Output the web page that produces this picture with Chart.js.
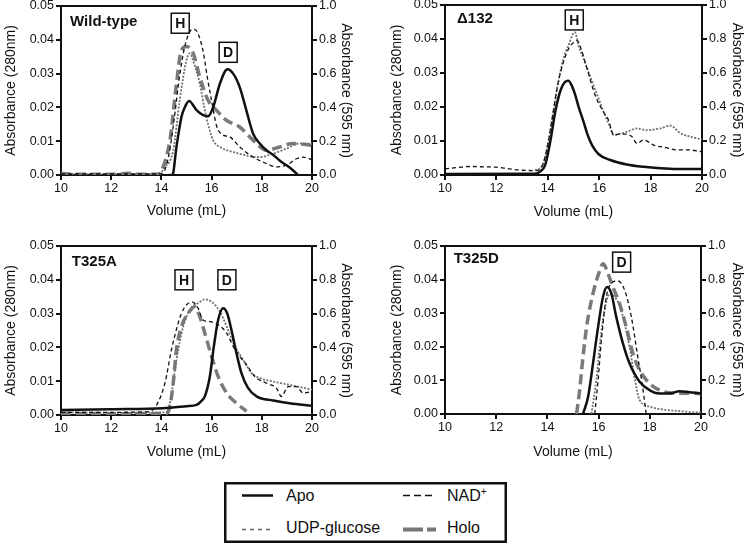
<!DOCTYPE html>
<html>
<head>
<meta charset="utf-8">
<script src="https://cdn.jsdelivr.net/npm/chart.js@4.4.1/dist/chart.umd.min.js"></script>
<style>
  body { margin: 0; background: #fff; }
  #wrap { position: relative; width: 745px; height: 547px; font-family: "Liberation Sans", Arial, sans-serif; color: #111; }
  canvas { position: absolute; }
  #legend { position: absolute; left: 224px; top: 482px; width: 283px; height: 61px; }
  #legend svg { position: absolute; left: 0; top: 0; }
  #legend span { position: absolute; font-size: 16px; line-height: 16px; transform: translateY(-50%); white-space: nowrap; }
  #legend sup { font-size: 10px; vertical-align: 6px; line-height: 0; }
</style>
</head>
<body>
<div id="wrap">
  <canvas id="c0" width="372" height="230" style="left:0;top:0"></canvas>
  <canvas id="c1" width="373" height="230" style="left:372px;top:0"></canvas>
  <canvas id="c2" width="372" height="240" style="left:0;top:230px"></canvas>
  <canvas id="c3" width="373" height="240" style="left:372px;top:230px"></canvas>
  <div id="legend">
    <svg width="283" height="61">
      <rect x="1.25" y="1.25" width="280.5" height="58.5" fill="none" stroke="#111" stroke-width="2.5"/>
      <line x1="18" y1="13.5" x2="49" y2="13.5" stroke="#111" stroke-width="2.5"/>
      <line x1="179" y1="13.5" x2="209" y2="13.5" stroke="#111" stroke-width="1.6" stroke-dasharray="7,4"/>
      <line x1="18" y1="47.5" x2="47" y2="47.5" stroke="#666" stroke-width="1.4" stroke-dasharray="4,4"/>
      <line x1="179" y1="47.5" x2="212" y2="47.5" stroke="#777" stroke-width="4" stroke-dasharray="20,4"/>
    </svg>
    <span style="left:62px;top:14px">Apo</span>
    <span style="left:223px;top:14px">NAD<sup>+</sup></span>
    <span style="left:62px;top:46px">UDP-glucose</span>
    <span style="left:223px;top:46px">Holo</span>
  </div>
</div>
<script>
// Volume (mL), Absorbance (280nm) pairs

// Wild-type
var wtApo = [[14.3,0],[14.44,0],[14.6,0.0083],[14.8,0.0172],[14.93,0.020],[15.1,0.0219],[15.4,0.0192],[15.66,0.0177],[15.86,0.0174],[16.06,0.020],[16.33,0.027],[16.63,0.0313],[16.86,0.030],[17.12,0.026],[17.39,0.019],[17.65,0.0123],[17.92,0.0093],[18.18,0.0073],[18.45,0.006],[18.71,0.0043],[18.98,0.0029],[19.24,0.0014],[19.44,0]];
var wtNad = [[10,0.0003],[13.9,0.0003],[14.1,0.001],[14.3,0.006],[14.5,0.016],[14.7,0.028],[14.9,0.037],[15.1,0.042],[15.27,0.0432],[15.45,0.042],[15.65,0.037],[15.85,0.028],[16.0,0.022],[16.2,0.0145],[16.46,0.0118],[16.72,0.0113],[17.12,0.0083],[17.65,0.0053],[18.18,0.0034],[18.58,0.0024],[18.98,0.0029],[19.38,0.0048],[19.64,0.0053],[20,0.0045]];
var wtUdp = [[10,0.0003],[13.9,0.0003],[14.1,0.002],[14.47,0.0073],[14.73,0.0221],[15.0,0.034],[15.13,0.036],[15.3,0.033],[15.53,0.027],[15.73,0.0192],[15.86,0.015],[16.06,0.0103],[16.33,0.0083],[16.86,0.0068],[17.39,0.0058],[17.92,0.0053],[18.45,0.0063],[18.98,0.0078],[19.5,0.0093],[20,0.0093]];
var wtHolo = [[10,0.0005],[10.5,0.0002],[11,0.0002],[12,0.0002],[12.7,0.0005],[13,0.0002],[13.9,0.0003],[14.07,0.0024],[14.34,0.0103],[14.6,0.027],[14.8,0.037],[15.0,0.038],[15.27,0.036],[15.53,0.029],[15.86,0.0221],[16.19,0.0192],[16.59,0.0162],[17.12,0.0142],[17.65,0.0103],[18.18,0.0073],[18.71,0.0083],[19.24,0.0093],[20,0.0088]];

// Δ132
var dApo = [[10,0.0003],[13.5,0.0004],[13.7,0.001],[13.9,0.003],[14.1,0.010],[14.3,0.019],[14.5,0.025],[14.65,0.0272],[14.8,0.0277],[14.95,0.026],[15.07,0.0235],[15.2,0.02],[15.39,0.0157],[15.55,0.0118],[15.72,0.0088],[15.98,0.0061],[16.43,0.0044],[17.07,0.0031],[17.73,0.0024],[18.38,0.002],[19.03,0.0018],[20,0.0018]];
var dNad = [[10,0.0018],[10.5,0.0022],[11,0.0025],[11.5,0.0024],[12,0.0023],[12.5,0.0018],[13,0.0014],[13.5,0.0013],[13.8,0.003],[14.0,0.009],[14.2,0.018],[14.4,0.027],[14.6,0.033],[14.8,0.037],[15.0,0.039],[15.15,0.0395],[15.3,0.037],[15.5,0.032],[15.84,0.0235],[16.16,0.0186],[16.36,0.0162],[16.56,0.0118],[16.75,0.012],[17.07,0.012],[17.27,0.0113],[17.47,0.0093],[17.73,0.0103],[18.12,0.0088],[18.64,0.008],[19.03,0.0074],[19.42,0.0074],[20,0.0069]];
var dUdp = [[13.5,0.0013],[13.8,0.003],[14.0,0.009],[14.2,0.018],[14.4,0.027],[14.6,0.034],[14.8,0.038],[15.05,0.042],[15.2,0.038],[15.4,0.034],[15.6,0.03],[15.8,0.026],[16.0,0.022],[16.2,0.018],[16.42,0.0142],[16.56,0.0118],[17.07,0.0127],[17.47,0.0137],[17.86,0.0132],[18.38,0.0137],[18.77,0.0145],[19.16,0.0123],[19.68,0.011],[20,0.0105]];
var dHolo = [];

// T325A
var aApo = [[10,0.0015],[12,0.0017],[14.07,0.002],[15.0,0.0026],[15.4,0.003],[15.6,0.0042],[15.73,0.0055],[15.93,0.0114],[16.09,0.0203],[16.26,0.0281],[16.46,0.0316],[16.62,0.0301],[16.79,0.0252],[16.99,0.0183],[17.19,0.0124],[17.45,0.008],[17.79,0.0055],[18.45,0.0043],[19.11,0.0035],[20,0.0027]];
var aNad = [[10,0.0008],[12,0.0008],[13.5,0.001],[13.81,0.003],[14.14,0.0094],[14.4,0.0193],[14.67,0.0272],[14.8,0.0301],[15.0,0.0326],[15.24,0.0334],[15.46,0.0316],[15.66,0.0281],[15.93,0.0276],[16.26,0.0267],[16.6,0.0242],[16.86,0.0203],[17.12,0.0173],[17.39,0.0149],[17.72,0.0114],[18.19,0.0094],[18.58,0.008],[18.78,0.0055],[19.05,0.0084],[19.38,0.0084],[19.65,0.0065],[20,0.007]];
var aUdp = [[10,0.0008],[12,0.0006],[14.2,0.0008],[14.34,0.0035],[14.6,0.0163],[14.87,0.0262],[15.13,0.0311],[15.46,0.0331],[15.73,0.0342],[16.0,0.0335],[16.33,0.0306],[16.6,0.0262],[16.93,0.0203],[17.26,0.0163],[17.59,0.0124],[17.92,0.0109],[18.45,0.0099],[19.11,0.0089],[20,0.0075]];
var aHolo = [[10,0.0005],[12,0.0004],[14.2,0.0005],[14.34,0.0025],[14.47,0.0094],[14.6,0.0193],[14.8,0.0262],[15.07,0.0301],[15.33,0.032],[15.53,0.0291],[15.73,0.0242],[16.0,0.0173],[16.26,0.0114],[16.6,0.0065],[16.99,0.0035],[17.39,0.0011]];

// T325D
var tApo = [[15.39,0],[15.59,0.0051],[15.78,0.015],[15.98,0.0259],[16.17,0.0348],[16.33,0.0378],[16.5,0.0358],[16.69,0.0289],[16.95,0.021],[17.21,0.015],[17.6,0.0096],[17.99,0.0071],[18.38,0.0061],[18.77,0.0061],[19.16,0.0068],[19.55,0.0065],[20,0.0061]];
var tNad = [[15.85,0],[15.98,0.01],[16.11,0.022],[16.3,0.0348],[16.56,0.0393],[16.75,0.0396],[17.02,0.0368],[17.28,0.0289],[17.53,0.017],[17.7,0.0091],[17.86,0]];
var tUdp = [[15.72,0],[15.91,0.01],[16.04,0.02],[16.17,0.0279],[16.3,0.0333],[16.43,0.0358],[16.63,0.0348],[16.82,0.0323],[17.02,0.0269],[17.21,0.02],[17.4,0.011],[17.6,0.0042],[17.99,0.0022],[18.64,0.0012],[19.28,0.0008],[19.8,0.0005],[20,0.0005]];
var tHolo = [[15.14,0],[15.26,0.0071],[15.39,0.017],[15.55,0.0269],[15.78,0.0358],[16.0,0.0417],[16.18,0.0447],[16.37,0.0417],[16.56,0.0378],[16.82,0.0328],[17.08,0.0259],[17.34,0.018],[17.6,0.0131],[17.99,0.0091],[18.38,0.0071],[18.77,0.0063],[19.28,0.0062],[19.67,0.0062],[20,0.006]];

var seriesNames = ['Apo', 'NAD+', 'UDP-glucose', 'Holo'];
var panelNames = ['Wild-type', 'Δ132', 'T325A', 'T325D'];
// name position [x, y] in data units
var namePos = [[10.36, 0.0453], [10.47, 0.0458], [10.43, 0.0454], [10.34, 0.0461]];
// boxed peak labels [text, x, y]
var peakBoxes = [
  [['H', 14.75, 0.0449], ['D', 16.66, 0.0363]],
  [['H', 15.03, 0.0456]],
  [['H', 14.9, 0.040], ['D', 16.61, 0.040]],
  [['D', 16.9, 0.0452]]
];

var FONT = '"Liberation Sans", Arial, sans-serif';
var styles = [
  { borderColor: '#111', borderWidth: 2.5, borderDash: [] },
  { borderColor: '#111', borderWidth: 1.3, borderDash: [4, 3] },
  { borderColor: '#707070', borderWidth: 1.8, borderDash: [2, 1.5] },
  { borderColor: '#7a7a7a', borderWidth: 3.5, borderDash: [10, 5] }
];

// canvas layout: plot area [left, right, top, bottom], title centres
var panels = [
  { id: 'c0', w: 372, h: 230, area: [61, 312, 6, 175], yT: 11, rT: 346, xT: 211, data: [wtApo, wtNad, wtUdp, wtHolo] },
  { id: 'c1', w: 373, h: 230, area: [73, 330, 5, 175], yT: 25, rT: 365, xT: 212, data: [dApo, dNad, dUdp, dHolo] },
  { id: 'c2', w: 372, h: 240, area: [61, 312, 16, 185], yT: 11, rT: 346, xT: 222, data: [aApo, aNad, aUdp, aHolo] },
  { id: 'c3', w: 373, h: 240, area: [73, 329, 16, 184], yT: 25, rT: 365, xT: 222, data: [tApo, tNad, tUdp, tHolo] }
];

function pts(a) { return a.map(function (p) { return { x: p[0], y: p[1] }; }); }

function axisGrid() {
  return { drawOnChartArea: false, drawTicks: true, tickLength: 5, tickWidth: 2, tickColor: '#111', lineWidth: 2, color: '#111' };
}

panels.forEach(function (p, i) {
  var datasets = p.data.map(function (d, k) {
    return {
      label: seriesNames[k],
      data: pts(d),
      yAxisID: 'y',
      borderColor: styles[k].borderColor,
      borderWidth: styles[k].borderWidth,
      borderDash: styles[k].borderDash,
      pointRadius: 0,
      fill: false,
      cubicInterpolationMode: 'monotone'
    };
  });

  var labels = {
    id: 'labels' + i,
    afterDatasetsDraw: function (chart) {
      var ctx = chart.ctx, xs = chart.scales.x, ys = chart.scales.y, ca = chart.chartArea;
      ctx.save();
      ctx.strokeStyle = '#111';
      ctx.lineWidth = 2;
      ctx.beginPath();
      ctx.moveTo(ca.left - 1, ca.top);
      ctx.lineTo(ca.right + 1, ca.top);
      ctx.stroke();

      ctx.fillStyle = '#111';
      ctx.font = 'bold 15px ' + FONT;
      ctx.textBaseline = 'middle';
      ctx.textAlign = 'left';
      ctx.fillText(panelNames[i], xs.getPixelForValue(namePos[i][0]), ys.getPixelForValue(namePos[i][1]));

      ctx.font = 'bold 14px ' + FONT;
      ctx.textAlign = 'center';
      peakBoxes[i].forEach(function (b) {
        var cx = xs.getPixelForValue(b[1]), cy = ys.getPixelForValue(b[2]);
        ctx.fillStyle = '#fff';
        ctx.fillRect(cx - 9, cy - 10, 18, 20);
        ctx.lineWidth = 1.5;
        ctx.strokeRect(cx - 9, cy - 10, 18, 20);
        ctx.fillStyle = '#111';
        ctx.fillText(b[0], cx, cy + 1);
      });
      ctx.restore();
    }
  };

  new Chart(document.getElementById(p.id).getContext('2d'), {
    type: 'line',
    data: { datasets: datasets },
    options: {
      responsive: false,
      animation: false,
      devicePixelRatio: 1,
      layout: { padding: { top: p.area[2], left: 0, right: 0, bottom: 0 } },
      plugins: { legend: { display: false }, tooltip: { enabled: false } },
      scales: {
        x: {
          type: 'linear', position: 'bottom', min: 10, max: 20,
          grid: axisGrid(),
          border: { display: true, color: '#111', width: 2 },
          ticks: { stepSize: 2, color: '#111', padding: 2, font: { family: FONT, size: 12.5, lineHeight: 1 }, maxRotation: 0 },
          title: { display: true, text: 'Volume (mL)', color: '#111', font: { family: FONT, size: 14 }, padding: { top: 0, bottom: p.h - p.xT - 8.4 } },
          afterFit: function (s) { s.height = p.h - p.area[3]; s.paddingLeft = 0; s.paddingRight = 0; }
        },
        y: {
          type: 'linear', position: 'left', min: 0, max: 0.05,
          grid: axisGrid(),
          border: { display: true, color: '#111', width: 2 },
          ticks: { stepSize: 0.01, color: '#111', padding: 2, font: { family: FONT, size: 12.5, lineHeight: 1 },
            callback: function (v) { return v.toFixed(2); } },
          title: { display: true, text: 'Absorbance (280nm)', color: '#111', font: { family: FONT, size: 14 }, padding: { top: p.yT - 8.4, bottom: 0 } },
          afterFit: function (s) { s.width = p.area[0]; s.paddingTop = 0; s.paddingBottom = 0; }
        },
        y2: {
          type: 'linear', position: 'right', min: 0, max: 1,
          grid: axisGrid(),
          border: { display: true, color: '#111', width: 2 },
          ticks: { stepSize: 0.2, color: '#111', padding: 2, font: { family: FONT, size: 12.5, lineHeight: 1 },
            callback: function (v) { return v.toFixed(1); } },
          title: { display: true, text: 'Absorbance (595 nm)', color: '#111', font: { family: FONT, size: 14 }, padding: { top: Math.max(0, p.w - p.rT - 8.4), bottom: 0 } },
          afterFit: function (s) { s.width = p.w - p.area[1]; s.paddingTop = 0; s.paddingBottom = 0; }
        }
      }
    },
    plugins: [labels]
  });
});
</script>
</body>
</html>
